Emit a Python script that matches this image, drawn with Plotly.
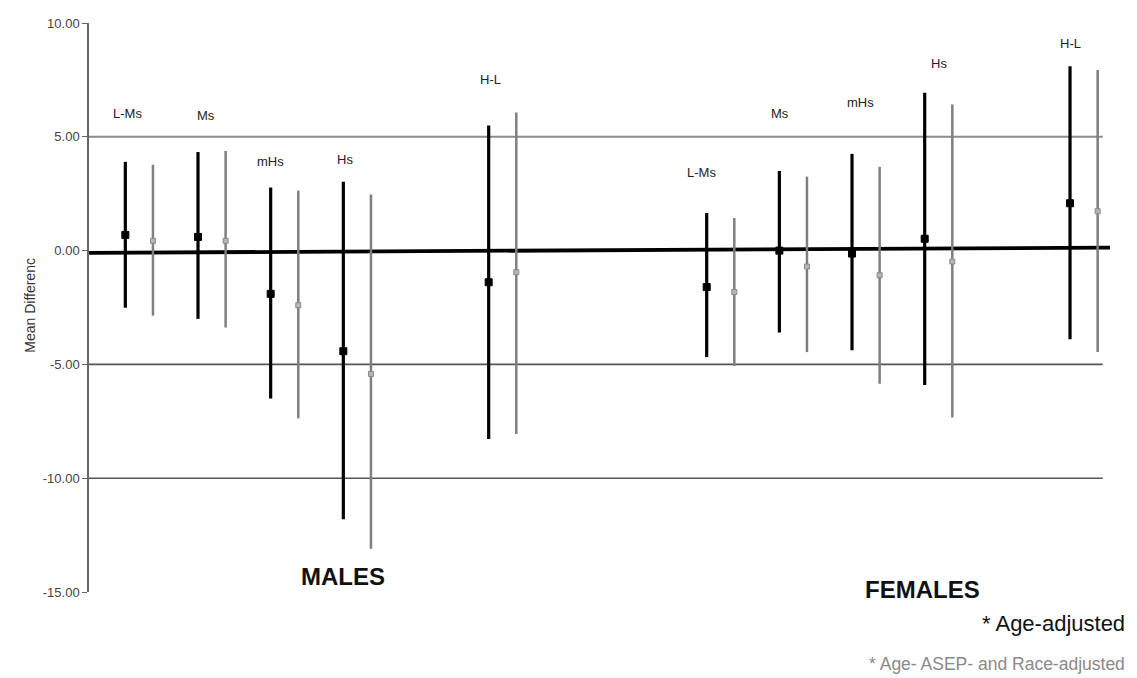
import plotly.graph_objects as go

# ---- data ----
categories = ["L-Ms", "Ms", "mHs", "Hs", "H-L"]
male_slots = [0, 1, 2, 3, 5]
female_slots = [8, 9, 10, 11, 13]

male_age_mean = [0.69, 0.60, -1.90, -4.42, -1.39]
male_age_low = [-2.51, -3.00, -6.50, -11.80, -8.28]
male_age_high = [3.90, 4.33, 2.77, 3.03, 5.50]
male_full_mean = [0.43, 0.43, -2.40, -5.42, -0.95]
male_full_low = [-2.86, -3.38, -7.37, -13.10, -8.06]
male_full_high = [3.77, 4.38, 2.64, 2.47, 6.07]

female_age_mean = [-1.60, 0.00, -0.13, 0.52, 2.08]
female_age_low = [-4.68, -3.60, -4.38, -5.90, -3.90]
female_age_high = [1.65, 3.50, 4.25, 6.93, 8.10]
female_full_mean = [-1.82, -0.70, -1.08, -0.48, 1.73]
female_full_low = [-5.07, -4.46, -5.85, -7.33, -4.46]
female_full_high = [1.43, 3.25, 3.68, 6.42, 7.93]

y_ticks = [10, 5, 0, -5, -10, -15]
y_tick_labels = ["10.00", "5.00", "0.00", "-5.00", "-10.00", "-15.00"]
grid_levels = [5, -5, -10]

# label placement (layout, not data)
male_label_y = [6.03, 5.94, 3.9, 4.0, 7.5]
female_label_y = [3.42, 6.03, 6.5, 8.2, 9.1]
male_label_dx = [2, 8, 0, 2, 2]
female_label_dx = [-5, 1, 8, 14, 0]

GRAY_OFF = 0.38
X_RANGE = [-0.5, 13.55]
FONT = "Liberation Sans, Arial"

fig = go.Figure()

def add_series(slots, mean, low, high, offset, color, thick, msize, msym_color, mline):
    xs = [s + offset for s in slots]
    fig.add_trace(go.Scatter(
        x=xs, y=mean, mode="markers",
        marker=dict(symbol="square", size=msize, color=msym_color,
                    line=dict(color=mline, width=1)),
        error_y=dict(type="data", symmetric=False,
                     array=[h - m for h, m in zip(high, mean)],
                     arrayminus=[m - l for m, l in zip(mean, low)],
                     color=color, thickness=thick, width=0),
        showlegend=False, hoverinfo="skip",
    ))

add_series(male_slots, male_full_mean, male_full_low, male_full_high, GRAY_OFF, "#7f7f7f", 2.5, 5, "#b5b5b5", "#8a8a8a")
add_series(female_slots, female_full_mean, female_full_low, female_full_high, GRAY_OFF, "#7f7f7f", 2.5, 5, "#b5b5b5", "#8a8a8a")
add_series(male_slots, male_age_mean, male_age_low, male_age_high, 0, "#000000", 3.2, 7, "#000000", "#000000")
add_series(female_slots, female_age_mean, female_age_low, female_age_high, 0, "#000000", 3.2, 7, "#000000", "#000000")

shapes = []
for g in grid_levels:
    shapes.append(dict(type="line", xref="x", yref="y", x0=X_RANGE[0], x1=13.45, y0=g, y1=g,
                       line=dict(color="#8c8c8c" if g > 0 else "#555555", width=2 if g > 0 else 1.6),
                       layer="below"))
# thick zero reference line (slightly tilted in the original)
shapes.append(dict(type="line", xref="x", yref="y", x0=X_RANGE[0], x1=13.55, y0=-0.1, y1=0.13,
                   line=dict(color="#000000", width=3.8), layer="below"))

annotations = []
for slots, ly, dx in [(male_slots, male_label_y, male_label_dx), (female_slots, female_label_y, female_label_dx)]:
    for s, cat, y, d in zip(slots, categories, ly, dx):
        annotations.append(dict(x=s, y=y, xref="x", yref="y", text=cat, showarrow=False,
                                xshift=d, font=dict(family=FONT, size=13, color="#222")))

annotations += [
    dict(x=3.0, y=-14.3, xref="x", yref="y", text="<b>MALES</b>", showarrow=False,
         font=dict(family=FONT, size=24, color="#111")),
    dict(x=10.97, y=-14.9, xref="x", yref="y", text="<b>FEMALES</b>", showarrow=False,
         font=dict(family=FONT, size=24, color="#111")),
    dict(x=1.017, y=-0.056, xref="paper", yref="paper", text="* Age-adjusted", showarrow=False,
         xanchor="right", yanchor="middle", font=dict(family=FONT, size=22, color="#111")),
    dict(x=1.017, y=-0.127, xref="paper", yref="paper", text="* Age- ASEP- and Race-adjusted", showarrow=False,
         xanchor="right", yanchor="middle", font=dict(family=FONT, size=17.5, color="#8a8a8a")),
    dict(x=-0.0676, y=-2.38, xref="paper", yref="y", text="Mean Differenc", showarrow=False,
         textangle=-90, font=dict(family=FONT, size=14, color="#333")),
]

# page body adds an 8px margin, so the figure is 8px smaller than the window
fig.update_layout(
    width=1129, height=670,
    margin=dict(l=81, r=27, t=8, b=86),
    paper_bgcolor="white", plot_bgcolor="white",
    shapes=shapes, annotations=annotations,
    xaxis=dict(range=X_RANGE, visible=False, showgrid=False, zeroline=False),
    yaxis=dict(range=[-15, 10], tickvals=y_ticks, ticktext=y_tick_labels,
               showgrid=False, zeroline=False, showline=True, linecolor="#666", linewidth=1.5,
               ticks="outside", ticklen=5, tickcolor="#666",
               tickfont=dict(family=FONT, size=13, color="#444")),
)

fig.write_html("out.html")
